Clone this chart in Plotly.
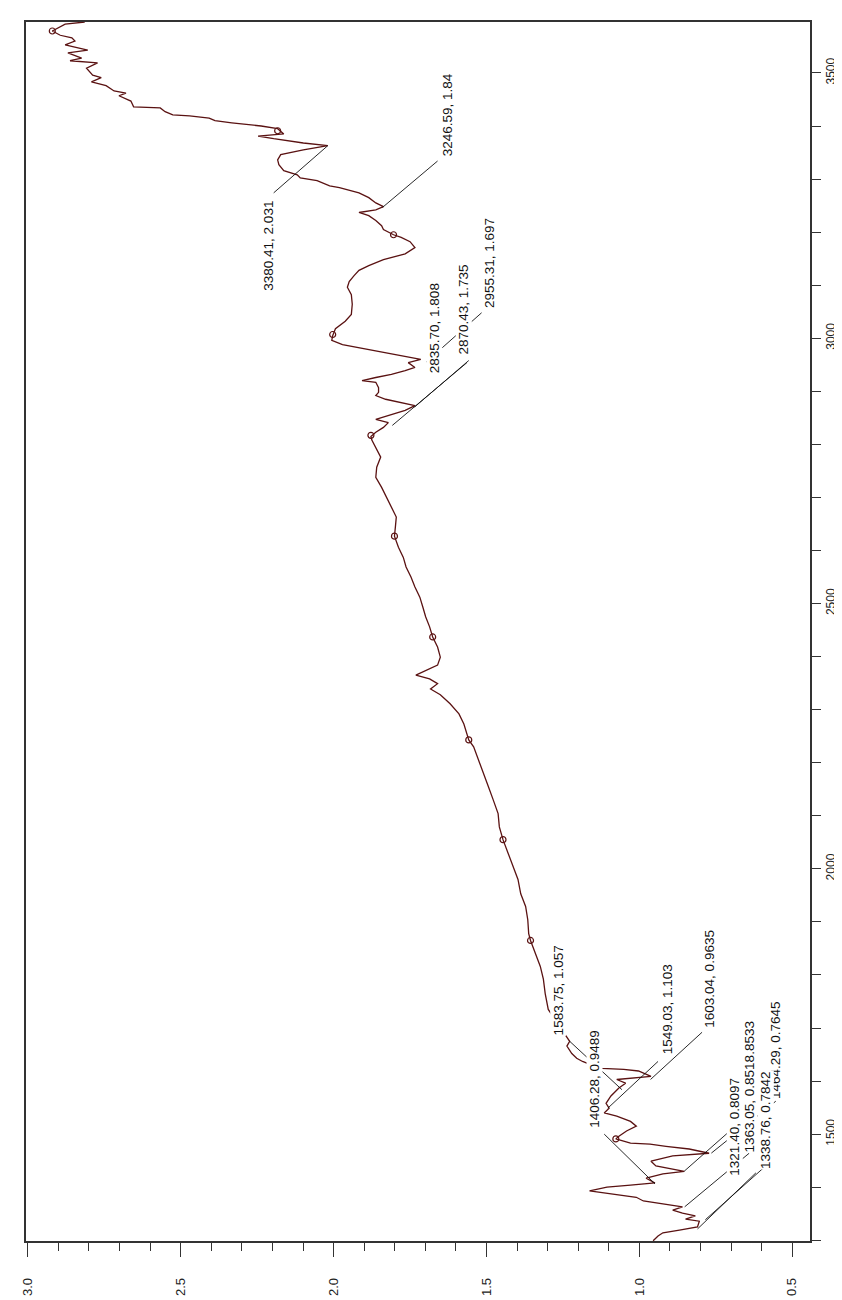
import plotly.graph_objects as go

# ---- spectrum trace (wavenumber, absorbance) ----
wavenumber = [
    3596, 3592, 3579, 3571, 3566, 3560, 3553, 3543, 3538, 3528,
    3523, 3519, 3509, 3496, 3491, 3483, 3476, 3466, 3462, 3457,
    3447, 3436, 3434, 3427, 3421, 3419, 3415, 3410, 3406, 3402,
    3400, 3395, 3385, 3381, 3376, 3368, 3363, 3355, 3346, 3336,
    3327, 3316, 3308, 3302, 3297, 3287, 3284, 3274, 3265, 3255,
    3248, 3242, 3237, 3231, 3222, 3212, 3205, 3195, 3190, 3182,
    3171, 3159, 3148, 3137, 3128, 3118, 3107, 3096, 3082, 3064,
    3045, 3032, 3018, 3005, 2996, 2988, 2979, 2969, 2960, 2954,
    2945, 2939, 2932, 2926, 2920, 2917, 2907, 2898, 2892, 2885,
    2879, 2873, 2864, 2855, 2847, 2841, 2832, 2823, 2815, 2808,
    2794, 2776, 2757, 2738, 2719, 2700, 2682, 2663, 2644, 2627,
    2606, 2587, 2569, 2550, 2531, 2512, 2493, 2475, 2456, 2437,
    2418, 2399, 2384, 2375, 2365, 2358, 2349, 2339, 2328, 2311,
    2292, 2273, 2254, 2243, 2230, 2206, 2179, 2155, 2130, 2104,
    2079, 2055, 2029, 2004, 1980, 1953, 1929, 1904, 1878, 1865,
    1841, 1816, 1792, 1765, 1735, 1703, 1675, 1666, 1652, 1643,
    1637, 1628, 1624, 1622, 1619, 1609, 1605, 1603, 1596, 1587,
    1572, 1558, 1549, 1540, 1534, 1524, 1515, 1506, 1496, 1491,
    1483, 1481, 1477, 1472, 1464, 1459, 1449, 1440, 1430, 1425,
    1417, 1408, 1404, 1400, 1393, 1389, 1381, 1374, 1368, 1363,
    1357, 1351, 1346, 1340, 1336, 1325, 1319, 1314, 1308, 1299,
]
absorbance = [
    2.814, 2.878, 2.920, 2.894, 2.856, 2.846, 2.878, 2.804, 2.869, 2.824,
    2.862, 2.772, 2.808, 2.788, 2.760, 2.792, 2.744, 2.718, 2.679, 2.702,
    2.663, 2.654, 2.567, 2.551, 2.526, 2.471, 2.407, 2.388, 2.333, 2.269,
    2.237, 2.183, 2.163, 2.247, 2.196, 2.099, 2.019, 2.099, 2.173, 2.183,
    2.179, 2.163, 2.119, 2.109, 2.054, 2.013, 1.981, 1.917, 1.885, 1.862,
    1.837, 1.862, 1.917, 1.885, 1.862, 1.843, 1.837, 1.804, 1.779, 1.750,
    1.734, 1.766, 1.837, 1.885, 1.917, 1.933, 1.949, 1.955, 1.942, 1.939,
    1.942, 1.962, 1.994, 2.003, 2.006, 1.971, 1.885, 1.798, 1.715, 1.756,
    1.734, 1.766, 1.811, 1.862, 1.907, 1.862, 1.853, 1.853, 1.862, 1.830,
    1.779, 1.734, 1.766, 1.821, 1.862, 1.821, 1.837, 1.862, 1.878, 1.875,
    1.862, 1.846, 1.859, 1.862, 1.843, 1.827, 1.811, 1.795, 1.798, 1.801,
    1.788, 1.772, 1.763, 1.747, 1.734, 1.718, 1.708, 1.699, 1.686, 1.676,
    1.660, 1.651, 1.660, 1.692, 1.731, 1.686, 1.660, 1.683, 1.651, 1.619,
    1.590, 1.574, 1.564, 1.558, 1.542, 1.526, 1.510, 1.494, 1.478, 1.462,
    1.458, 1.446, 1.429, 1.413, 1.397, 1.388, 1.372, 1.365, 1.362, 1.356,
    1.340, 1.324, 1.314, 1.308, 1.298, 1.260, 1.228, 1.237, 1.221, 1.205,
    1.186, 1.147, 1.122, 1.051, 1.003, 0.962, 1.029, 1.074, 1.045, 1.067,
    1.093, 1.109, 1.099, 1.115, 1.074, 1.029, 1.010, 1.042, 1.067, 1.077,
    1.029, 0.965, 0.913, 0.837, 0.772, 0.891, 0.962, 0.946, 0.853, 0.923,
    0.978, 0.949, 1.029, 1.106, 1.163, 1.115, 1.010, 0.987, 0.923, 0.859,
    0.891, 0.859, 0.817, 0.849, 0.804, 0.810, 0.869, 0.923, 0.939, 0.955,
]

# ---- small circle markers on the trace ----
marker_wavenumber = [3579, 3391, 3195, 3007, 2817, 2627, 2437, 2243, 2055, 1865, 1491]
marker_absorbance = [2.920, 2.183, 1.804, 2.003, 1.878, 1.801, 1.676, 1.558, 1.446, 1.356, 1.077]

# ---- peak labels ----
peak_labels = [
    "3380.41, 2.031", "3246.59, 1.84", "2955.31, 1.697", "2870.43, 1.735",
    "2835.70, 1.808", "1583.75, 1.057", "1406.28, 0.9489", "1549.03, 1.103",
    "1603.04, 0.9635", "1464.29, 0.7645", "1338.76, 0.7842", "1430.18, 0.8533",
    "1363.05, 0.8518", "1321.40, 0.8097",
]
# point each leader line reaches
peak_wavenumber = [3363, 3246.59, 2955.31, 2870.43, 2835.70, 1583.75, 1406.28,
                   1549.03, 1603.04, 1464.29, 1338.76, 1430.18, 1363.05, 1321.40]
peak_absorbance = [2.019, 1.84, 1.697, 1.735, 1.808, 1.057, 0.9489,
                   1.103, 0.9635, 0.7645, 0.7842, 0.8533, 0.8518, 0.8097]
# where the label text sits
label_wavenumber = [3174, 3421, 3141, 3054, 3018, 1771, 1605,
                    1735, 1793, 1658, 1526, 1622, 1558, 1515]
label_absorbance = [2.212, 1.628, 1.490, 1.574, 1.670, 1.266, 1.147,
                    0.907, 0.769, 0.554, 0.587, 0.641, 0.641, 0.689]
# where each leader line starts
leader_wavenumber = [3274, 3334, 3048, 2958, 2954, 1675, 1500,
                     1637, 1692, 1562, 1440, 1538, 1464, 1427]
leader_absorbance = [2.196, 1.660, 1.516, 1.558, 1.564, 1.228, 1.115,
                     0.939, 0.795, 0.554, 0.587, 0.641, 0.641, 0.619]

LINE_COLOR = "#5a1212"
FONT = "Liberation Sans, Arial, sans-serif"

fig = go.Figure()
fig.add_trace(go.Scatter(
    x=absorbance, y=wavenumber, mode="lines",
    line=dict(color=LINE_COLOR, width=1.3), hoverinfo="skip",
))
fig.add_trace(go.Scatter(
    x=marker_absorbance, y=marker_wavenumber, mode="markers",
    marker=dict(symbol="circle-open", size=6, color=LINE_COLOR, line=dict(width=1.2, color=LINE_COLOR)),
    hoverinfo="skip",
))

for i, txt in enumerate(peak_labels):
    fig.add_shape(
        type="line", xref="x", yref="y", layer="above",
        x0=leader_absorbance[i], y0=leader_wavenumber[i],
        x1=peak_absorbance[i], y1=peak_wavenumber[i],
        line=dict(color="#111111", width=0.9),
    )
    fig.add_annotation(
        x=label_absorbance[i], y=label_wavenumber[i], text=txt,
        showarrow=False, textangle=-90, xanchor="center", yanchor="middle",
        bgcolor="white", borderpad=0,
        font=dict(family=FONT, size=13.5, color="#111111"),
    )

fig.update_xaxes(
    range=[3.006, 0.442], tickmode="linear", tick0=0.5, dtick=0.5,
    ticks="outside", ticklen=14, tickwidth=1, tickcolor="#333333",
    tickangle=-90, tickformat=".1f", ticklabelstandoff=16,
    tickfont=dict(family=FONT, size=13, color="#222222"),
    minor=dict(tick0=0.5, dtick=0.1, ticks="outside", ticklen=8, tickwidth=1, tickcolor="#333333"),
    showline=True, linecolor="#333333", linewidth=1.5, mirror=True,
    showgrid=False, zeroline=False,
)
fig.update_yaxes(
    range=[1298.6, 3596], side="right", tickmode="linear", tick0=1500, dtick=500,
    ticks="outside", ticklen=9, tickwidth=1, tickcolor="#333333",
    tickangle=-90, tickfont=dict(family=FONT, size=12, color="#222222"),
    minor=dict(tick0=1500, dtick=100, ticks="outside", ticklen=9, tickwidth=1, tickcolor="#333333"),
    showline=True, linecolor="#333333", linewidth=2, mirror=True,
    showgrid=False, zeroline=False,
)
fig.update_layout(
    width=842, height=1300,
    margin=dict(l=12, r=32, t=14, b=65),
    paper_bgcolor="white", plot_bgcolor="white",
    showlegend=False,
)
fig.write_html("out.html")
